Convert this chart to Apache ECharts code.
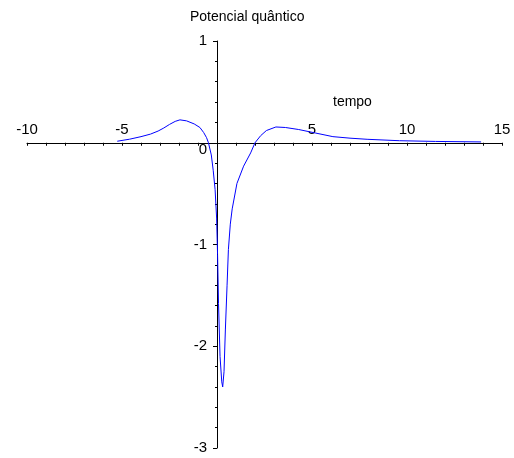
<!DOCTYPE html>
<html>
<head>
<meta charset="utf-8">
<script src="https://cdn.jsdelivr.net/npm/echarts@6/dist/echarts.min.js"></script>
<style>
  html, body { margin: 0; padding: 0; background: #fff; }
  #chart { width: 514px; height: 458px; }
</style>
</head>
<body>
<div id="chart"></div>
<script>
// tempo (t) e valor do potencial
var tempo = [-5.25, -4.6, -4.0, -3.5, -3.1, -2.8, -2.5, -2.2, -1.95, -1.6, -1.2, -0.9, -0.7, -0.55, -0.45,
  -0.3, -0.2, -0.1, -0.02, 0.03, 0.08, 0.16, 0.25, 0.3, 0.37, 0.44, 0.53, 0.6, 0.7, 0.8, 1.05,
  1.4, 1.77, 2.0, 2.3, 2.6, 3.1, 3.6, 4.3, 5.2, 6.1, 7.0, 7.9, 9.6, 11.5, 13.9]
var potencial = [0.015, 0.035, 0.06, 0.085, 0.115, 0.145, 0.18, 0.21, 0.225, 0.215, 0.185, 0.15, 0.1, 0.05, 0.0,
  -0.12, -0.27, -0.46, -0.74, -1.1, -1.58, -2.1, -2.35, -2.4, -2.25, -1.84, -1.4, -1.05, -0.8, -0.65, -0.4,
  -0.23, -0.1, 0.0, 0.07, 0.12, 0.155, 0.15, 0.13, 0.095, 0.06, 0.045, 0.034, 0.02, 0.013, 0.008]

var pontos = tempo.map(function (t, i) { return [t, potencial[i]] })

var fonte = '"Liberation Sans", Arial, sans-serif'
var chart = echarts.init(document.getElementById('chart'))

// grade: x de -10 a 15 em 475px, y de -3 a 1 em 407px
// os eixos ficam deslocados para cruzar na origem
var gradeAlt = 407
var zeroY = gradeAlt / 4       // distancia do topo ate y=0
var zeroX = 475 * 10 / 25      // distancia da esquerda ate x=0

chart.setOption({
  animation: false,
  title: {
    text: 'Potencial quântico',
    left: 185,
    top: 5,
    textStyle: { fontFamily: fonte, fontSize: 14, fontWeight: 'normal', color: '#000' }
  },
  grid: { left: 27, right: 12, top: 41, bottom: 10, containLabel: false },
  xAxis: {
    type: 'value',
    min: -10,
    max: 15,
    interval: 1,
    position: 'bottom',
    offset: -(gradeAlt - zeroY),
    splitLine: { show: false },
    axisLine: { onZero: false, lineStyle: { color: '#000', width: 1 } },
    axisTick: { length: 3, lineStyle: { color: '#000' } },
    axisLabel: {
      inside: true,
      margin: 5,
      fontFamily: fonte,
      fontSize: 15,
      color: '#000',
      formatter: function (v) {
        return (v % 5 === 0 && v !== 0) ? String(v) : ''
      }
    }
  },
  yAxis: {
    type: 'value',
    min: -3,
    max: 1,
    interval: 1,
    position: 'left',
    offset: -zeroX,
    splitLine: { show: false },
    axisLine: { onZero: false, lineStyle: { color: '#000', width: 1 } },
    axisTick: { length: 4, lineStyle: { color: '#000' } },
    minorTick: { show: true, splitNumber: 5, length: 2, lineStyle: { color: '#000' } },
    axisLabel: {
      margin: 10,
      fontFamily: fonte,
      fontSize: 15,
      color: '#000',
      formatter: function (v) {
        return v === 0 ? '{z|0}' : String(v)
      },
      rich: {
        z: { fontFamily: fonte, fontSize: 15, color: '#000', padding: [14, 0, 0, 0] }
      }
    }
  },
  graphic: [{
    type: 'text',
    left: 333,
    top: 95,
    style: { text: 'tempo', font: '14px ' + fonte, fill: '#000' }
  }],
  series: [{
    type: 'line',
    data: pontos,
    showSymbol: false,
    smooth: false,
    lineStyle: { color: '#0000ff', width: 1 }
  }]
})
</script>
</body>
</html>
